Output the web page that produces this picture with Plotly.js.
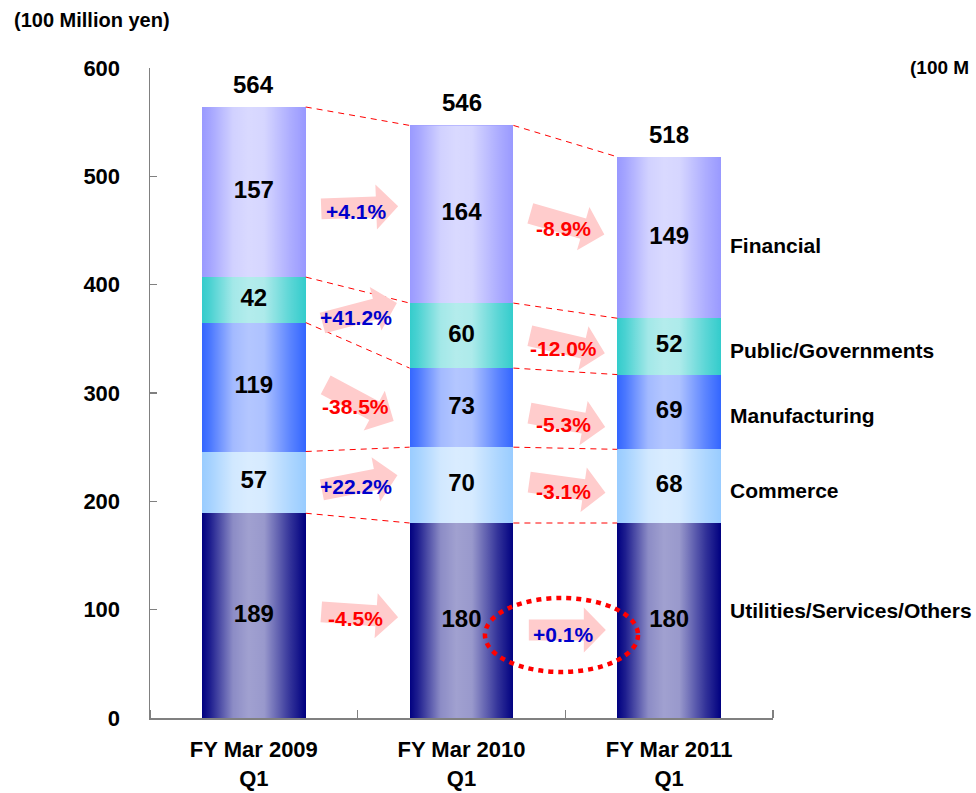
<!DOCTYPE html>
<html>
<head>
<meta charset="utf-8">
<script src="https://cdn.plot.ly/plotly-3.0.1.min.js"></script>
<style>
html,body{margin:0;padding:0;background:#fff;}
#chart{width:976px;height:793px;}
</style>
</head>
<body>
<div id="chart"></div>
<script>
// ---------------- data ----------------
const categories = ['FY Mar 2009<br>Q1', 'FY Mar 2010<br>Q1', 'FY Mar 2011<br>Q1'];
const segmentNames = ['Utilities/Services/Others', 'Commerce', 'Manufacturing', 'Public/Governments', 'Financial'];
const utilities = [189, 180, 180];
const commerce = [57, 70, 68];
const manufacturing = [119, 73, 69];
const publicGov = [42, 60, 52];
const financial = [157, 164, 149];
const totals = [564, 546, 518];
// year-on-year change labels, bottom segment to top segment
const changeFirst = ['-4.5%', '+22.2%', '-38.5%', '+41.2%', '+4.1%'];
const changeSecond = ['+0.1%', '-3.1%', '-5.3%', '-12.0%', '-8.9%'];
const unitLabel = '(100 Million yen)';
const unitLabelCut = '(100 M';

// ---------------- styling ----------------
const FONT = 'Liberation Sans, Arial, sans-serif';
const edgeColors = ['#000080', '#99CCFF', '#3366FF', '#33CCCC', '#9999FF'];
const BAR_W = 0.5;
const xIdx = categories.map((c, i) => i);
const series = [utilities, commerce, manufacturing, publicGov, financial];

const traces = [];
// stacked bars
series.forEach((vals, k) => {
  traces.push({
    type: 'bar', name: segmentNames[k], x: xIdx, y: vals, width: BAR_W,
    marker: {color: edgeColors[k], line: {width: 0}},
    hoverinfo: 'name+y', showlegend: false
  });
});

// cumulative tops
const cum = series.map((vals, k) => xIdx.map(i => {
  let s = 0; for (let j = 0; j <= k; j++) s += series[j][i]; return s;
}));
const barTop = xIdx.map(i => cum[cum.length - 1][i]);

// glossy highlight overlay (horizontal gradient) over each bar column
const hl = [[0, 'rgba(255,255,255,0)'], [0.08, 'rgba(255,255,255,0.12)'], [0.3, 'rgba(255,255,255,0.55)'],
            [0.45, 'rgba(255,255,255,0.63)'], [0.6, 'rgba(255,255,255,0.6)'], [0.85, 'rgba(255,255,255,0.2)'],
            [1, 'rgba(255,255,255,0)']];
xIdx.forEach(i => {
  traces.push({
    type: 'scatter', mode: 'none', fill: 'toself',
    x: [i - BAR_W / 2, i + BAR_W / 2, i + BAR_W / 2, i - BAR_W / 2, i - BAR_W / 2],
    y: [0, 0, barTop[i], barTop[i], 0],
    fillgradient: {type: 'horizontal', colorscale: hl},
    hoverinfo: 'skip', showlegend: false
  });
});

// dashed connectors between segment boundaries
const cx = [], cy = [];
for (let k = 0; k < cum.length; k++) {
  for (let i = 0; i < xIdx.length - 1; i++) {
    cx.push(i + BAR_W / 2, i + 1 - BAR_W / 2, null);
    cy.push(cum[k][i], cum[k][i + 1], null);
  }
}
traces.push({
  type: 'scatter', mode: 'lines', x: cx, y: cy,
  line: {color: '#FF0000', width: 1, dash: '6px,5px'},
  hoverinfo: 'skip', showlegend: false, connectgaps: false
});

// value labels in segments
const lx = [], ly = [], lt = [];
series.forEach((vals, k) => xIdx.forEach(i => {
  lx.push(i); ly.push(cum[k][i] - vals[i] / 2); lt.push(String(vals[i]));
}));
traces.push({
  type: 'scatter', mode: 'text', x: lx, y: ly, text: lt,
  textfont: {family: FONT, size: 24, color: '#000000', weight: 700},
  hoverinfo: 'skip', showlegend: false, cliponaxis: false
});

// ---------------- decorations ----------------
const shapes = [];
const annotations = [];

function arrowPath(angleDeg, dx) {
  const L = 77, s = 21, h = 45, hl2 = 22;
  const pts = [[-L / 2, -s / 2], [L / 2 - hl2, -s / 2], [L / 2 - hl2, -h / 2], [L / 2, 0],
               [L / 2 - hl2, h / 2], [L / 2 - hl2, s / 2], [-L / 2, s / 2]];
  const t = angleDeg * Math.PI / 180;
  const c = Math.cos(t), sn = Math.sin(t);
  return 'M' + pts.map(p => {
    const X = p[0] * c + p[1] * sn + dx;
    const Y = -p[0] * sn + p[1] * c;
    return X.toFixed(2) + ',' + Y.toFixed(2);
  }).join(' L') + ' Z';
}

// arrow placement (x between bars, y level, tilt in degrees; positive = downward)
const arrowsFirst = [{y: 95.5, a: 4}, {y: 217.4, a: -11}, {y: 290.8, a: 28}, {y: 373.8, a: -15}, {y: 471.2, a: -2}];
const arrowsSecond = [{y: 81.2, a: 0}, {y: 212.8, a: 8}, {y: 275, a: 10.5}, {y: 344.8, a: 13}, {y: 456, a: 16}];

function addArrows(list, labels, xPos, dx) {
  list.forEach((ar, k) => {
    shapes.push({
      type: 'path', xref: 'x', yref: 'y', xsizemode: 'pixel', ysizemode: 'pixel',
      xanchor: xPos, yanchor: ar.y, path: arrowPath(ar.a, dx),
      fillcolor: '#FFCCCC', line: {width: 0}, layer: 'above'
    });
    const pos = labels[k].charAt(0) === '+';
    annotations.push({
      x: xPos, y: ar.y, xref: 'x', yref: 'y', text: labels[k], showarrow: false,
      xshift: dx - 4, yshift: -4,
      font: {family: FONT, size: 21, color: pos ? '#0000CC' : '#FF0000', weight: 700}
    });
  });
}
addArrows(arrowsFirst, changeFirst, 0.5, 2);
addArrows(arrowsSecond, changeSecond, 1.5, 2);

// dotted ellipse highlight
shapes.push({
  type: 'circle', xref: 'x', yref: 'y', x0: 1.113, x1: 1.85, y0: 42.5, y1: 110.8,
  line: {color: '#FF0000', width: 4.5, dash: '5px,5px'}, fillcolor: 'rgba(0,0,0,0)', layer: 'above'
});

// totals above bars
xIdx.forEach(i => {
  annotations.push({
    x: i, y: barTop[i], xref: 'x', yref: 'y', text: String(totals[i]), showarrow: false,
    yanchor: 'bottom', yshift: 7, font: {family: FONT, size: 24, color: '#000', weight: 700}
  });
});

// segment names at right
const nameShift = [10, -4, -4, -4, -8];
segmentNames.forEach((nm, k) => {
  const last = xIdx.length - 1;
  annotations.push({
    x: 2.285, y: cum[k][last] - series[k][last] / 2, xref: 'x', yref: 'y', text: nm, showarrow: false,
    xanchor: 'left', yshift: nameShift[k], font: {family: FONT, size: 21, color: '#000', weight: 700}
  });
});

// unit labels
annotations.push({
  xref: 'paper', yref: 'paper', x: -0.2215, y: 1.0738, xanchor: 'left', yanchor: 'middle',
  text: unitLabel, showarrow: false, font: {family: FONT, size: 20, color: '#000', weight: 700}
});
annotations.push({
  xref: 'paper', yref: 'paper', x: 1.318, y: 1.0015, xanchor: 'right', yanchor: 'middle',
  text: unitLabelCut, showarrow: false, font: {family: FONT, size: 19, color: '#000', weight: 700}
});

const layout = {
  width: 976, height: 793,
  margin: {l: 150, r: 203, t: 68, b: 75, pad: 0},
  paper_bgcolor: '#ffffff', plot_bgcolor: '#ffffff',
  barmode: 'stack', showlegend: false,
  font: {family: FONT, color: '#000'},
  xaxis: {
    type: 'linear', range: [-0.5, 2.5], tickvals: xIdx, ticktext: categories,
    ticks: '', showgrid: false, zeroline: false,
    showline: true, linecolor: '#808080', linewidth: 1.5,
    tickfont: {family: FONT, size: 22, color: '#000', weight: 700},
    ticklabelstandoff: 11,
    minor: {tickvals: [-0.5, 0.5, 1.5, 2.5], ticks: 'inside', ticklen: 8, tickcolor: '#808080', tickwidth: 1.5, showgrid: false}
  },
  yaxis: {
    range: [0, 600], tickvals: [0, 100, 200, 300, 400, 500, 600],
    ticks: 'inside', ticklen: 7, tickcolor: '#808080', tickwidth: 1.5,
    showgrid: false, zeroline: false, showline: true, linecolor: '#808080', linewidth: 1.5,
    tickfont: {family: FONT, size: 22, color: '#000', weight: 700},
    ticklabelstandoff: 24
  },
  shapes: shapes, annotations: annotations
};

Plotly.newPlot('chart', traces, layout, {displayModeBar: false, staticPlot: true});
</script>
</body>
</html>
